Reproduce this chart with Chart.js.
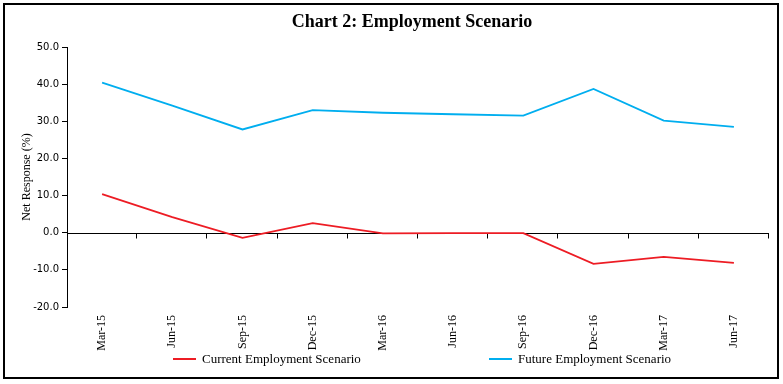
<!DOCTYPE html>
<html>
<head>
<meta charset="utf-8">
<script src="https://cdn.jsdelivr.net/npm/chart.js@4"></script>
<style>
  html, body { margin: 0; padding: 0; background: #fff; }
  #wrap { position: relative; width: 783px; height: 384px; }
  #frame { position: absolute; left: 3px; top: 3px; width: 772px; height: 372px; border: 2px solid #000; }
  canvas { position: absolute; left: 0; top: 0; }
  .title { position: absolute; left: 0; width: 824px; top: 11px; text-align: center; font: bold 18px "Liberation Serif", serif; color: #000; }
  .legend { position: absolute; top: 351px; font: 13px "Liberation Serif", serif; color: #000; white-space: nowrap; }
  .legend span.sw { display: inline-block; width: 23px; height: 2px; vertical-align: middle; margin-right: 6px; position: relative; top: -1px; }
</style>
</head>
<body>
<div id="wrap">
  <div id="frame"></div>
  <canvas id="c" width="783" height="384"></canvas>
  <div class="title">Chart 2: Employment Scenario</div>
  <div class="legend" style="left:173px"><span class="sw" style="background:#ED1C24"></span>Current Employment Scenario</div>
  <div class="legend" style="left:489px"><span class="sw" style="background:#00AEEF"></span>Future Employment Scenario</div>
</div>
<script>
// quarters on the x axis
const categories = ['Mar-15', 'Jun-15', 'Sep-15', 'Dec-15', 'Mar-16', 'Jun-16', 'Sep-16', 'Dec-16', 'Mar-17', 'Jun-17'];
// net response (%)
const currentScenario = [10.4, 4.2, -1.4, 2.6, -0.2, -0.1, -0.1, -8.4, -6.5, -8.1];
const futureScenario  = [40.4, 34.2, 27.8, 33.0, 32.3, 31.9, 31.5, 38.7, 30.2, 28.5];
const yTicks = [-20, -10, 0, 10, 20, 30, 40, 50];

const RED = '#ED1C24';
const BLUE = '#00AEEF';
const SERIF = '"Liberation Serif", "Times New Roman", serif';

// zero line with small down ticks between the categories
const zeroAxis = {
  id: 'zeroAxis',
  beforeDatasetsDraw(chart) {
    const { ctx, chartArea, scales: { x, y } } = chart;
    const y0 = Math.round(y.getPixelForValue(0)) + 0.5;
    ctx.save();
    ctx.strokeStyle = '#000';
    ctx.lineWidth = 1;
    ctx.beginPath();
    ctx.moveTo(chartArea.left, y0);
    ctx.lineTo(chartArea.right, y0);
    const half = (x.getPixelForValue(1) - x.getPixelForValue(0)) / 2;
    for (let i = 0; i < categories.length; i++) {
      const px = Math.round(x.getPixelForValue(i) + half) - 0.5;
      ctx.moveTo(px, y0);
      ctx.lineTo(px, y0 + 5);
    }
    ctx.stroke();
    ctx.restore();
  }
};

new Chart(document.getElementById('c').getContext('2d'), {
  type: 'line',
  data: {
    labels: categories,
    datasets: [
      { label: 'Current Employment Scenario', data: currentScenario, borderColor: RED, backgroundColor: RED, borderWidth: 1.8, pointRadius: 0, tension: 0 },
      { label: 'Future Employment Scenario', data: futureScenario, borderColor: BLUE, backgroundColor: BLUE, borderWidth: 1.8, pointRadius: 0, tension: 0 },
    ],
  },
  options: {
    responsive: false,
    animation: false,
    layout: { padding: { left: 4, right: 14, top: 47, bottom: 0 } },
    plugins: {
      legend: { display: false },
      tooltip: { enabled: false },
    },
    scales: {
      x: {
        offset: true,
        grid: { display: false, drawTicks: false },
        border: { display: false },
        ticks: {
          color: '#000',
          font: { family: SERIF, size: 12 },
          minRotation: 90, maxRotation: 90,
          padding: 8,
          autoSkip: false,
        },
        afterFit(scale) { scale.height = 77; },
      },
      y: {
        min: -20, max: 50,
        afterBuildTicks(scale) { scale.ticks = yTicks.map(v => ({ value: v })); },
        border: { display: true, color: '#000', width: 1 },
        grid: { drawOnChartArea: false, color: '#000', tickLength: 5 },
        ticks: {
          color: '#000',
          font: { family: '"DejaVu Sans", Verdana, sans-serif', size: 10 },
          padding: 3,
          callback: v => v.toFixed(1),
        },
        title: {
          display: true,
          text: 'Net Response (%)',
          color: '#000',
          font: { family: SERIF, size: 12 },
          padding: { top: 16, bottom: 0 },
        },
        afterFit(scale) { scale.width = 63; },
      },
    },
  },
  plugins: [zeroAxis],
});
</script>
</body>
</html>
